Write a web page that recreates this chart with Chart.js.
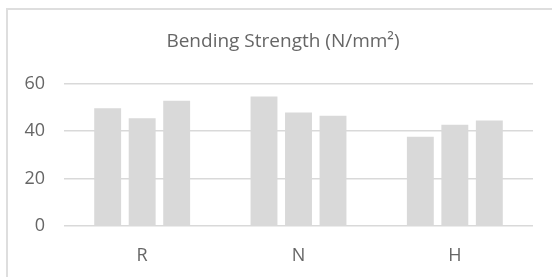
<!DOCTYPE html>
<html>
<head>
<meta charset="utf-8">
<script src="https://cdn.jsdelivr.net/npm/chart.js@4"></script>
<style>
    html, body {
        margin: 0;
        padding: 0;
        background: #ffffff;
        overflow: hidden;
        width: 552px;
        height: 277px;
    }
    #frame {
        position: absolute;
        left: 6px;
        top: 8px;
        width: 552px;
        height: 280px;
        border-left: 2px solid #dedede;
        border-top: 2px solid #dedede;
    }
    #chart {
        position: absolute;
        left: -1px;
        top: -1px;
    }
</style>
</head>
<body>
<div id="frame">
    <canvas id="chart" width="552" height="268"></canvas>
</div>
<script>
const categories = ["R", "N", "H"];

const series1 = [49.7, 54.6, 37.7];
const series2 = [45.5, 47.9, 42.7];
const series3 = [52.9, 46.5, 44.5];

const yTicks = [0, 20, 40, 60];

const titleText = "Bending Strength (N/mm\u00B2)";

const barColor = "#d9d9d9";
const gridColor = "#d9d9d9";
const textColor = "#666666";

const ctx =
    document.getElementById(
        "chart"
    );

new Chart(
    ctx,
    {
        type: "bar",
        data: {
            labels: categories,
            datasets: [
                { label: "Series 1", data: series1 },
                { label: "Series 2", data: series2 },
                { label: "Series 3", data: series3 }
            ].map(ds => ({
                ...ds,
                backgroundColor: barColor,
                borderWidth: 0,
                categoryPercentage: 0.662,
                barPercentage: 0.78
            }))
        },
        options: {
            responsive: false,
            animation: false,
            layout: {
                padding: 0
            },
            plugins: {
                legend: { display: false },
                tooltip: { enabled: false },
                title: {
                    display: true,
                    text: titleText,
                    color: textColor,
                    font: {
                        family: "'Open Sans'",
                        size: 19,
                        weight: "normal"
                    },
                    padding: {
                        top: 21,
                        bottom: 31
                    }
                }
            },
            scales: {
                x: {
                    grid: { display: false },
                    border: { display: false },
                    ticks: {
                        color: textColor,
                        padding: 11,
                        font: {
                            family: "'Open Sans'",
                            size: 18
                        }
                    },
                    afterFit: scale => {
                        scale.height = 51;
                    }
                },
                y: {
                    min: 0,
                    max: 60,
                    afterBuildTicks: scale => {
                        scale.ticks = yTicks.map(v => ({ value: v }));
                    },
                    grid: {
                        color: gridColor,
                        lineWidth: 1.5,
                        drawTicks: false
                    },
                    border: { display: false },
                    ticks: {
                        color: textColor,
                        padding: 19,
                        font: {
                            family: "'Open Sans'",
                            size: 18
                        }
                    },
                    afterFit: scale => {
                        scale.width = 57;
                    }
                },
                // empty right-hand spacer so the title stays centred on the whole frame
                spacer: {
                    type: "linear",
                    position: "right",
                    grid: { display: false },
                    border: { display: false },
                    ticks: { display: false },
                    afterFit: scale => {
                        scale.width = 26;
                    }
                }
            }
        }
    }
);
</script>
</body>
</html>
